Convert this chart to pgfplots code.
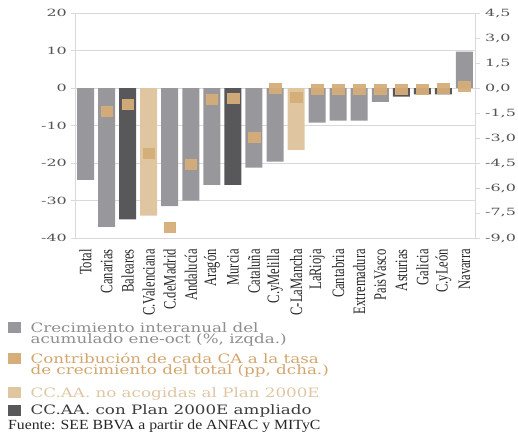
\documentclass[border=0pt]{standalone}
\usepackage{graphicx}
\usepackage{pgfplots}
\pgfplotsset{compat=1.18}
\usepackage{fontspec}
\setmainfont{Liberation Serif}
\newfontfamily\legfont[FakeStretch=1.29]{DejaVu Serif}
\newfontfamily\xlabfont[FakeStretch=0.72]{Liberation Serif}
\newfontfamily\srcfont[FakeStretch=1.13]{Liberation Serif}
\definecolor{cgray}{HTML}{98989C}
\definecolor{cdark}{HTML}{58585A}
\definecolor{clight}{HTML}{DFC6A0}
\definecolor{ctan}{HTML}{D5AE79}
\definecolor{cgrid}{HTML}{D9D9D9}
\definecolor{ctick}{HTML}{555555}
\definecolor{cleg1}{HTML}{8E8E92}
\definecolor{cleg2}{HTML}{D2A66E}
\definecolor{cleg3}{HTML}{DEC7A4}
\definecolor{cleg4}{HTML}{3C3C3C}
\newcommand{\lrow}[3]{\textcolor{#1}{\rule{0pt}{#2}\smash{#3}}}
\newcommand{\tk}[1]{\mbox{\legfont\fontsize{10}{12}\selectfont\scalebox{1.24}[1]{#1}}}
\begin{document}
\begin{tikzpicture}
\useasboundingbox (-75bp,-201bp) rectangle (443bp,238bp);
\begin{axis}[
  at={(0,0)}, anchor=south west,
  scale only axis, width=400bp, height=225bp,
  clip=false,
  xmin=-0.5, xmax=18.5, ymin=-40, ymax=20,
  ytick={-40,-30,...,20},
  yticklabels={\tk{-40},\tk{-30},\tk{-20},\tk{-10},\tk{0},\tk{10},\tk{20}},
  ymajorgrids, grid style={cgrid, line width=0.8pt},
  axis line style={cgrid, line width=0.8pt},
  ytick pos=left, tick align=outside, major tick length=4bp,
  major tick style={cgrid, line width=0.8pt},
  xtick={0,...,18},
  major x tick style={draw=none},
  xticklabels={Total,Canarias,Baleares,C.Valenciana,C.deMadrid,Andalucía,Aragón,Murcia,Cataluña,C.yMelilla,C-LaMancha,LaRioja,Cantabria,Extremadura,PaisVasco,Asturias,Galicia,C.yLeón,Navarra},
  x tick label style={rotate=90, anchor=east, inner sep=0pt, font=\xlabfont\fontsize{17.5}{17.5}\selectfont, text=black!85},
  xticklabel shift=7bp,
  y tick label style={text=ctick, inner sep=0pt},
  yticklabel shift=4bp,
  ybar, bar width=17bp, bar shift=0pt,
  legend style={at={(-0.1675,-0.373)}, anchor=north west, draw=none, fill=none,
    inner sep=0pt, row sep=0pt,
    cells={anchor=base west, inner sep=0pt},
    font=\legfont\fontsize{13}{10.5}\selectfont,
    /tikz/every odd column/.append style={column sep=8bp}},
]
\addplot[fill=cgray, draw=none, forget plot] coordinates {(0,-24.5) (1,-37) (4,-31.5) (5,-30) (6,-25.8) (8,-21.2) (9,-19.6) (11,-9.2) (12,-8.7) (13,-8.7) (14,-3.7) (18,9.7)};
\addplot[fill=cdark, draw=none, forget plot] coordinates {(2,-35) (7,-25.8) (15,-2.3) (16,-1.7) (17,-1.7)};
\addplot[fill=clight, draw=none, forget plot] coordinates {(3,-34) (10,-16.5)};
\addlegendimage{legend image code/.code={\fill[cgray] (0bp,0bp) rectangle (12bp,10bp);}}
\addlegendentry{\lrow{cleg1}{5bp}{Crecimiento interanual del}}
\addlegendimage{empty legend}
\addlegendentry{\lrow{cleg1}{5.5bp}{acumulado ene-oct (\%, izqda.)}}
\addlegendimage{legend image code/.code={\fill[ctan] (0bp,0bp) rectangle (12bp,10bp);}}
\addlegendentry{\lrow{cleg2}{14.5bp}{Contribución de cada CA a la tasa}}
\addlegendimage{empty legend}
\addlegendentry{\lrow{cleg2}{5.5bp}{de crecimiento del total (pp, dcha.)}}
\addlegendimage{legend image code/.code={\fill[clight] (0bp,0bp) rectangle (12bp,10bp);}}
\addlegendentry{\lrow{cleg3}{17.5bp}{CC.AA. no acogidas al Plan 2000E}}
\addlegendimage{legend image code/.code={\fill[cdark] (0bp,0bp) rectangle (12bp,10bp);}}
\addlegendentry{\lrow{cleg4}{12bp}{CC.AA. con Plan 2000E ampliado}}
\node[anchor=base west, inner sep=0pt, font=\srcfont\fontsize{14}{16}\selectfont, text=black!85] at (rel axis cs:-0.1675,-0.849) {Fuente: SEE BBVA a partir de ANFAC y MITyC};
\end{axis}
\begin{axis}[
  at={(0,0)}, anchor=south west,
  scale only axis, width=400bp, height=225bp,
  xmin=-0.5, xmax=18.5, ymin=-9, ymax=4.5,
  axis x line=none, axis y line*=right,
  axis line style={cgrid, line width=0.8pt},
  ytick={-9,-7.5,...,4.5},
  yticklabels={\tk{-9,0},\tk{-7,5},\tk{-6,0},\tk{-4,5},\tk{-3,0},\tk{-1,5},\tk{0,0},\tk{1,5},\tk{3,0},\tk{4,5}},
  tick align=outside, major tick length=5bp,
  major tick style={cgrid, line width=0.8pt},
  y tick label style={text=ctick, inner sep=0pt, anchor=west},
  yticklabel shift=5bp,
]
\addplot[only marks, mark=square*, mark size=5bp, mark options={xscale=1.17, fill=ctan, draw=ctan, opacity=0.95}] coordinates {
(1,-1.38) (2,-1.0) (3,-3.92) (4,-8.36) (5,-4.58) (6,-0.66) (7,-0.59) (8,-2.98) (9,-0.02) (10,-0.55) (11,-0.05) (12,-0.1) (13,-0.1) (14,-0.1) (15,-0.05) (16,-0.1) (17,-0.03) (18,0.1)};
\end{axis}
\end{tikzpicture}
\end{document}
